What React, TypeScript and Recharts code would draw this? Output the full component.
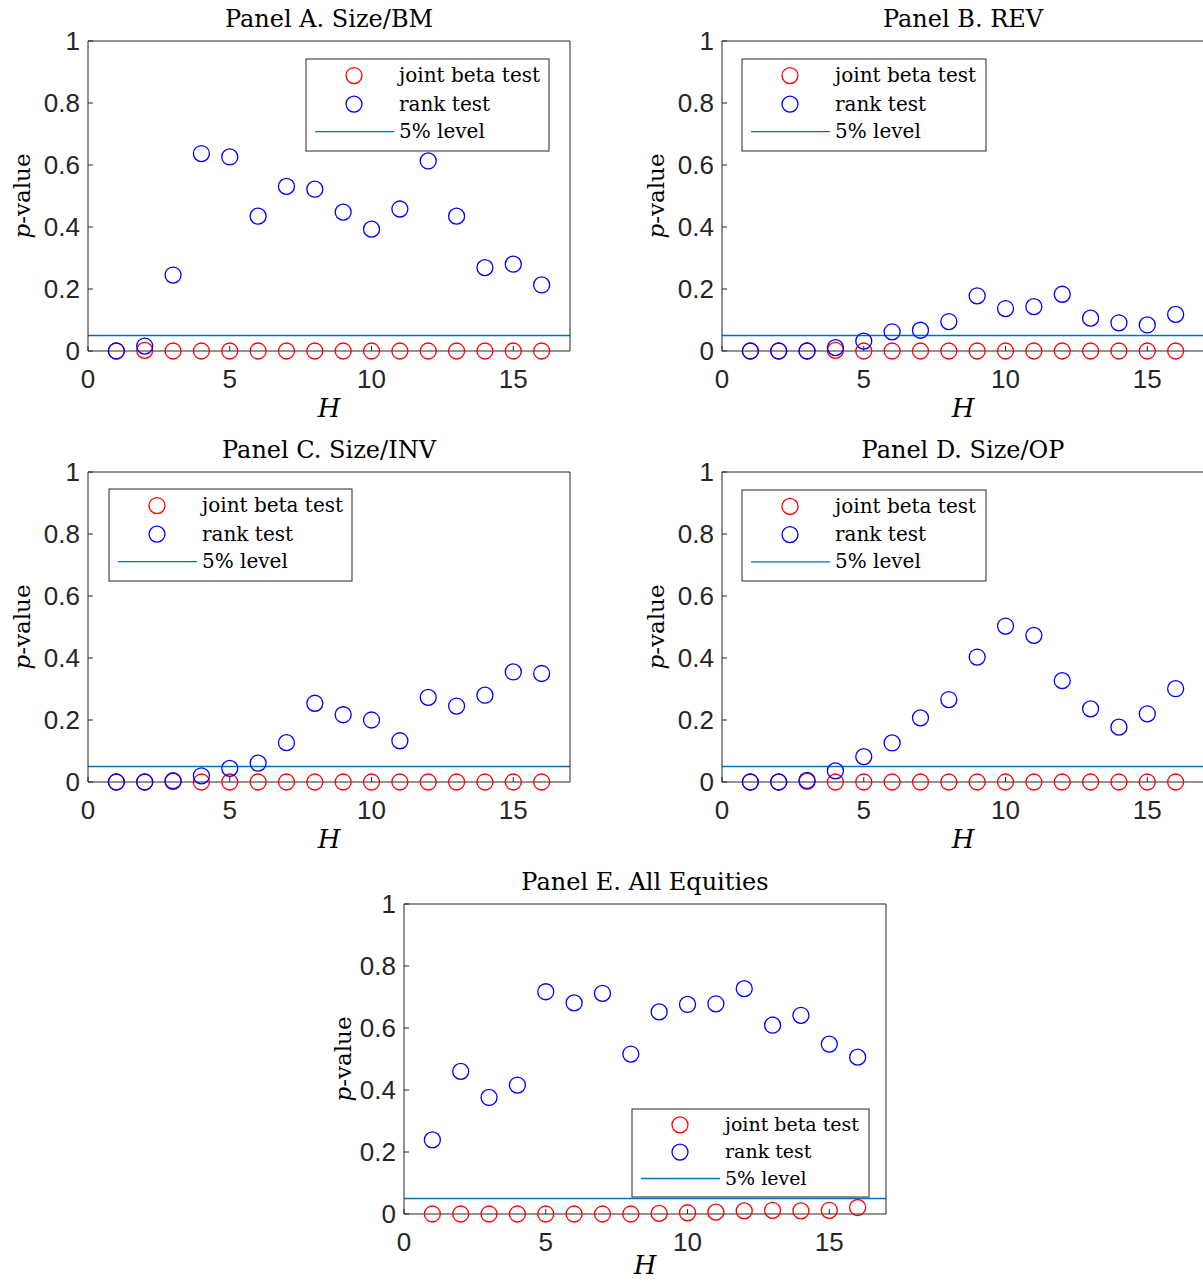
import React from 'react';
import { ScatterChart, Scatter, XAxis, YAxis, ReferenceLine } from 'recharts';

// Horizons H = 1..16
const horizons = [1, 2, 3, 4, 5, 6, 7, 8, 9, 10, 11, 12, 13, 14, 15, 16];

// Panel A. Size/BM
const jointA = [0, 0.002, 0, 0, 0, 0, 0, 0, 0, 0, 0, 0, 0, 0, 0, 0];
const rankA = [0, 0.016, 0.245, 0.637, 0.626, 0.435, 0.531, 0.522, 0.448, 0.393, 0.458, 0.613, 0.435, 0.269, 0.28, 0.213];

// Panel B. REV
const jointB = [0, 0, 0, 0.002, 0, 0, 0, 0, 0, 0, 0, 0, 0, 0, 0, 0];
const rankB = [0, 0, 0, 0.011, 0.032, 0.062, 0.067, 0.095, 0.178, 0.137, 0.143, 0.183, 0.106, 0.091, 0.084, 0.118];

// Panel C. Size/INV
const jointC = [0, 0, 0.002, 0, 0, 0, 0, 0, 0, 0, 0, 0, 0, 0, 0, 0];
const rankC = [0, 0, 0.004, 0.02, 0.044, 0.061, 0.127, 0.254, 0.217, 0.2, 0.133, 0.273, 0.245, 0.28, 0.355, 0.35];

// Panel D. Size/OP
const jointD = [0, 0, 0.002, 0, 0, 0, 0, 0, 0, 0, 0, 0, 0, 0, 0, 0];
const rankD = [0, 0, 0.005, 0.036, 0.082, 0.126, 0.207, 0.266, 0.403, 0.503, 0.473, 0.327, 0.236, 0.177, 0.22, 0.301];

// Panel E. All Equities
const jointE = [0, 0, 0, 0, 0, 0, 0, 0, 0.002, 0.004, 0.006, 0.01, 0.012, 0.01, 0.012, 0.021];
const rankE = [0.239, 0.46, 0.376, 0.416, 0.717, 0.681, 0.712, 0.516, 0.652, 0.676, 0.678, 0.727, 0.609, 0.641, 0.548, 0.506];

const LEVEL = 0.05;
const xTicks = [0, 5, 10, 15];
const yTicks = [0, 0.2, 0.4, 0.6, 0.8, 1];
const legendLabels = ['joint beta test', 'rank test', '5% level'];

const AXIS = '#262626';
const RED = '#ff0000';
const BLUE = '#0000ff';
const LINE = '#0072BD';
const SERIF = '"DejaVu Serif", serif';
const SANS = '"Liberation Sans", Arial, sans-serif';

// chart box: plot area sits at (88,41)-(570,351) inside a 600x430 box
const BOX_W = 600;
const BOX_H = 430;
const PL = 88, PT = 41, PR = 570, PB = 351;
const TICK = 5;

const fmtY = (v: number) => (v === 0 || v === 1 ? String(v) : v.toFixed(1));

function LeftTick({ x, y, payload }: any) {
  return (
    <g>
      <line x1={x} x2={x + TICK} y1={y} y2={y} stroke={AXIS} />
      <text x={x - 8} y={y} dy="0.36em" textAnchor="end" fontFamily={SANS} fontSize={26} fill={AXIS}>
        {fmtY(payload.value)}
      </text>
    </g>
  );
}

function BottomTick({ x, y, payload }: any) {
  return (
    <g>
      <line x1={x} x2={x} y1={y} y2={y - TICK} stroke={AXIS} />
      <text x={x} y={y + 37} textAnchor="middle" fontFamily={SANS} fontSize={26} fill={AXIS}>
        {payload.value}
      </text>
    </g>
  );
}

function RightTick({ x, y }: any) {
  return <line x1={x} x2={x - TICK} y1={y} y2={y} stroke={AXIS} />;
}

function TopTick({ x, y }: any) {
  return <line x1={x} x2={x} y1={y} y2={y + TICK} stroke={AXIS} />;
}

const ring = (color: string) => (props: any) => (
  <circle cx={props.cx} cy={props.cy} r={8} fill="none" stroke={color} strokeWidth={1.3} />
);

function toPoints(vals: number[]) {
  return horizons.map((h, i) => ({ h, p: vals[i] }));
}

interface LegendSpec {
  x: number;
  y: number;
  w: number;
  h: number;
  fs: number;
}

interface PanelProps {
  title: string;
  joint: number[];
  rank: number[];
  left: number; // page x of plot left
  top: number; // page y of plot top
  legend: LegendSpec;
  ylabOff: number;
  xlabOff: number;
}

function LegendBox({ x, y, w, h, fs }: LegendSpec) {
  const rows = [0.18, 0.49, 0.79].map((f) => y + h * f);
  return (
    <g>
      <rect x={x} y={y} width={w} height={h} fill="#fff" stroke={AXIS} strokeWidth={1} />
      <circle cx={x + 48} cy={rows[0]} r={8} fill="none" stroke={RED} strokeWidth={1.3} />
      <circle cx={x + 48} cy={rows[1]} r={8} fill="none" stroke={BLUE} strokeWidth={1.3} />
      <line x1={x + 9} x2={x + 88} y1={rows[2]} y2={rows[2]} stroke={LINE} strokeWidth={1.3} />
      {legendLabels.map((t, i) => (
        <text key={t} x={x + 93} y={rows[i]} dy="0.33em" fontFamily={SERIF} fontSize={fs} fill="#000">
          {t}
        </text>
      ))}
    </g>
  );
}

function Panel({ title, joint, rank, left, top, legend, ylabOff, xlabOff }: PanelProps) {
  const cx = (PL + PR) / 2;
  const cy = (PT + PB) / 2;
  return (
    <div style={{ position: 'absolute', left: left - PL, top: top - PT, width: BOX_W, height: BOX_H }}>
      <ScatterChart
        width={BOX_W}
        height={BOX_H}
        margin={{ top: PT - 1, right: BOX_W - PR - 1, bottom: BOX_H - PB - 30, left: PL - 40 }}
      >
        <XAxis
          dataKey="h"
          type="number"
          domain={[0, 17]}
          ticks={xTicks}
          interval={0}
          height={30}
          tickSize={0}
          tickMargin={0}
          tickLine={false}
          axisLine={{ stroke: AXIS }}
          tick={<BottomTick />}
        />
        <XAxis
          xAxisId="t"
          orientation="top"
          dataKey="h"
          type="number"
          domain={[0, 17]}
          ticks={xTicks}
          interval={0}
          height={1}
          tickSize={0}
          tickMargin={0}
          tickLine={false}
          axisLine={{ stroke: AXIS }}
          tick={<TopTick />}
        />
        <YAxis
          dataKey="p"
          type="number"
          domain={[0, 1]}
          ticks={yTicks}
          interval={0}
          width={40}
          tickSize={0}
          tickMargin={0}
          tickLine={false}
          axisLine={{ stroke: AXIS }}
          tick={<LeftTick />}
        />
        <YAxis
          yAxisId="r"
          orientation="right"
          dataKey="p"
          type="number"
          domain={[0, 1]}
          ticks={yTicks}
          interval={0}
          width={1}
          tickSize={0}
          tickMargin={0}
          tickLine={false}
          axisLine={{ stroke: AXIS }}
          tick={<RightTick />}
        />
        <ReferenceLine y={LEVEL} stroke={LINE} strokeWidth={1.3} ifOverflow="extendDomain" />
        <Scatter data={toPoints(joint)} shape={ring(RED)} isAnimationActive={false} />
        <Scatter data={toPoints(rank)} shape={ring(BLUE)} isAnimationActive={false} />
      </ScatterChart>
      <svg width={BOX_W} height={BOX_H} style={{ position: 'absolute', left: 0, top: 0, pointerEvents: 'none', overflow: 'visible' }}>
        <text x={cx} y={PT - 14} textAnchor="middle" fontFamily={SERIF} fontSize={24} fill="#000">
          {title}
        </text>
        <text
          transform={`translate(${PL - ylabOff}, ${cy}) rotate(-90)`}
          textAnchor="middle"
          dy="0.3em"
          fontFamily={SERIF}
          fontSize={23}
          fill="#000"
        >
          <tspan fontStyle="italic">p</tspan>
          <tspan>-value</tspan>
        </text>
        <text x={cx} y={PB + xlabOff} textAnchor="middle" fontFamily={SERIF} fontStyle="italic" fontSize={26} fill="#000">
          H
        </text>
        <LegendBox {...legend} x={PL + legend.x} y={PT + legend.y} />
      </svg>
    </div>
  );
}

export default function App() {
  return (
    <div
      style={{
        position: 'absolute',
        left: 0,
        top: 0,
        width: 1203,
        height: 1283,
        overflow: 'hidden',
        background: '#fff',
      }}
    >
      <Panel title="Panel A. Size/BM" joint={jointA} rank={rankA} left={88} top={41}
        legend={{ x: 218, y: 18, w: 243, h: 92, fs: 20 }} ylabOff={65} xlabOff={66} />
      <Panel title="Panel B. REV" joint={jointB} rank={rankB} left={722} top={41}
        legend={{ x: 20, y: 18, w: 244, h: 92, fs: 20 }} ylabOff={65} xlabOff={66} />
      <Panel title="Panel C. Size/INV" joint={jointC} rank={rankC} left={88} top={472}
        legend={{ x: 21, y: 17, w: 243, h: 92, fs: 20 }} ylabOff={65} xlabOff={66} />
      <Panel title="Panel D. Size/OP" joint={jointD} rank={rankD} left={722} top={472}
        legend={{ x: 20, y: 18, w: 244, h: 91, fs: 20 }} ylabOff={65} xlabOff={66} />
      <Panel title="Panel E. All Equities" joint={jointE} rank={rankE} left={404} top={904}
        legend={{ x: 228, y: 205, w: 237, h: 88, fs: 19 }} ylabOff={60} xlabOff={60} />
    </div>
  );
}
